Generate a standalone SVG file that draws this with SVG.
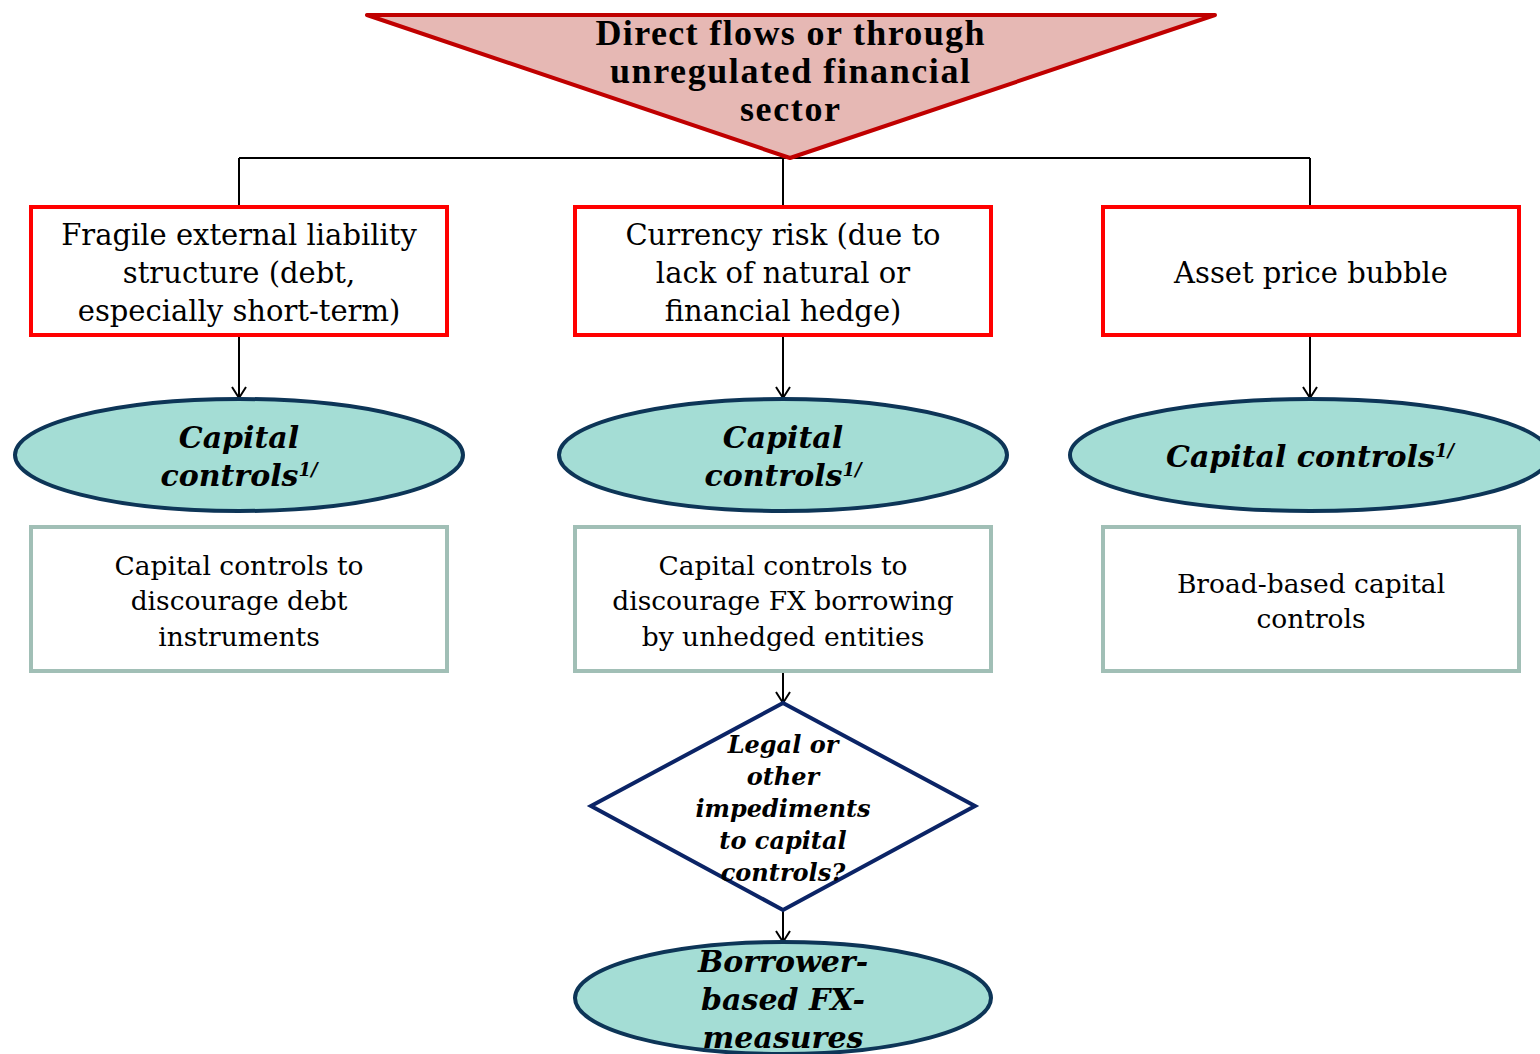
<svg xmlns="http://www.w3.org/2000/svg" width="1540" height="1054" viewBox="0 0 1540 1054">
<defs>
<marker id="arr" markerWidth="16" markerHeight="16" refX="14" refY="8" orient="auto" markerUnits="userSpaceOnUse" viewBox="0 0 16 16">
<path d="M3,1 L14,8 L3,15" fill="none" stroke="#000" stroke-width="2"/>
</marker>
<style>
.red{fill:#fff;stroke:#ff0000;stroke-width:4}
.grn{fill:#fff;stroke:#a1bfb6;stroke-width:4}
.ell{fill:#a4ddd5;stroke:#0d3557;stroke-width:4}
.dia{fill:#fff;stroke:#0b2466;stroke-width:4}
.con{fill:none;stroke:#000;stroke-width:2}
.t{font-family:"DejaVu Serif","Liberation Serif",serif;font-size:29px;text-anchor:middle;fill:#000}
.s{font-family:"DejaVu Serif","Liberation Serif",serif;font-size:26.5px;text-anchor:middle;fill:#000}
.h{font-family:"Liberation Serif",serif;font-size:36px;font-weight:bold;text-anchor:middle;fill:#000}
.bi{font-family:"DejaVu Serif","Liberation Serif",serif;font-size:30px;font-weight:bold;font-style:italic;text-anchor:middle;fill:#000}
.bd{font-family:"DejaVu Serif","Liberation Serif",serif;font-size:24px;font-weight:bold;font-style:italic;text-anchor:middle;fill:#000}
.sup{font-size:18px}
</style>
</defs>
<g id="connectors">
<path class="con" d="M239,158 L1310,158 M239,158 L239,207 M783,158 L783,207 M1310,158 L1310,207"/>
<path class="con" d="M239,335 L239,398" marker-end="url(#arr)"/>
<path class="con" d="M783,335 L783,398" marker-end="url(#arr)"/>
<path class="con" d="M1310,335 L1310,398" marker-end="url(#arr)"/>
<path class="con" d="M783,671 L783,703" marker-end="url(#arr)"/>
<path class="con" d="M783,910 L783,942" marker-end="url(#arr)"/>
</g>
<g id="top">
<polygon points="367,15 1215,15 790,158" fill="#e6b8b4" stroke="#c00000" stroke-width="4" stroke-linejoin="round"/>
<text class="h" x="790" y="45" textLength="389" lengthAdjust="spacing">Direct flows or through</text>
<text class="h" x="790" y="83" textLength="360" lengthAdjust="spacing">unregulated financial</text>
<text class="h" x="790" y="121" textLength="100" lengthAdjust="spacing">sector</text>
</g>
<g id="risk1">
<rect class="red" x="31" y="207" width="416" height="128"/>
<text class="t" x="239" y="245">Fragile external liability</text>
<text class="t" x="239" y="283">structure (debt,</text>
<text class="t" x="239" y="321">especially short-term)</text>
</g>
<g id="risk2">
<rect class="red" x="575" y="207" width="416" height="128"/>
<text class="t" x="783" y="245">Currency risk (due to</text>
<text class="t" x="783" y="283">lack of natural or</text>
<text class="t" x="783" y="321">financial hedge)</text>
</g>
<g id="risk3">
<rect class="red" x="1103" y="207" width="416" height="128"/>
<text class="t" x="1311" y="283">Asset price bubble</text>
</g>
<g id="cc1">
<ellipse class="ell" cx="239" cy="455" rx="224" ry="56"/>
<text class="bi" x="239" y="448">Capital</text>
<text class="bi" x="239" y="486">controls<tspan class="sup" dy="-10">1/</tspan></text>
</g>
<g id="cc2">
<ellipse class="ell" cx="783" cy="455" rx="224" ry="56"/>
<text class="bi" x="783" y="448">Capital</text>
<text class="bi" x="783" y="486">controls<tspan class="sup" dy="-10">1/</tspan></text>
</g>
<g id="cc3">
<ellipse class="ell" cx="1310" cy="455" rx="240" ry="56"/>
<text class="bi" x="1310" y="467">Capital controls<tspan class="sup" dy="-10">1/</tspan></text>
</g>
<g id="m1">
<rect class="grn" x="31" y="527" width="416" height="144"/>
<text class="s" x="239" y="575">Capital controls to</text>
<text class="s" x="239" y="610">discourage debt</text>
<text class="s" x="239" y="646">instruments</text>
</g>
<g id="m2">
<rect class="grn" x="575" y="527" width="416" height="144"/>
<text class="s" x="783" y="575">Capital controls to</text>
<text class="s" x="783" y="610">discourage FX borrowing</text>
<text class="s" x="783" y="646">by unhedged entities</text>
</g>
<g id="m3">
<rect class="grn" x="1103" y="527" width="416" height="144"/>
<text class="s" x="1311" y="593">Broad-based capital</text>
<text class="s" x="1311" y="628">controls</text>
</g>
<g id="decision">
<polygon class="dia" points="783,703 975,806 783,910 591,806"/>
<text class="bd" x="783" y="753">Legal or</text>
<text class="bd" x="783" y="785">other</text>
<text class="bd" x="783" y="817">impediments</text>
<text class="bd" x="783" y="849">to capital</text>
<text class="bd" x="783" y="881">controls?</text>
</g>
<g id="fx">
<ellipse class="ell" cx="783" cy="998" rx="208" ry="56"/>
<text class="bi" x="783" y="972">Borrower-</text>
<text class="bi" x="783" y="1010">based FX-</text>
<text class="bi" x="783" y="1048">measures</text>
</g>
</svg>
